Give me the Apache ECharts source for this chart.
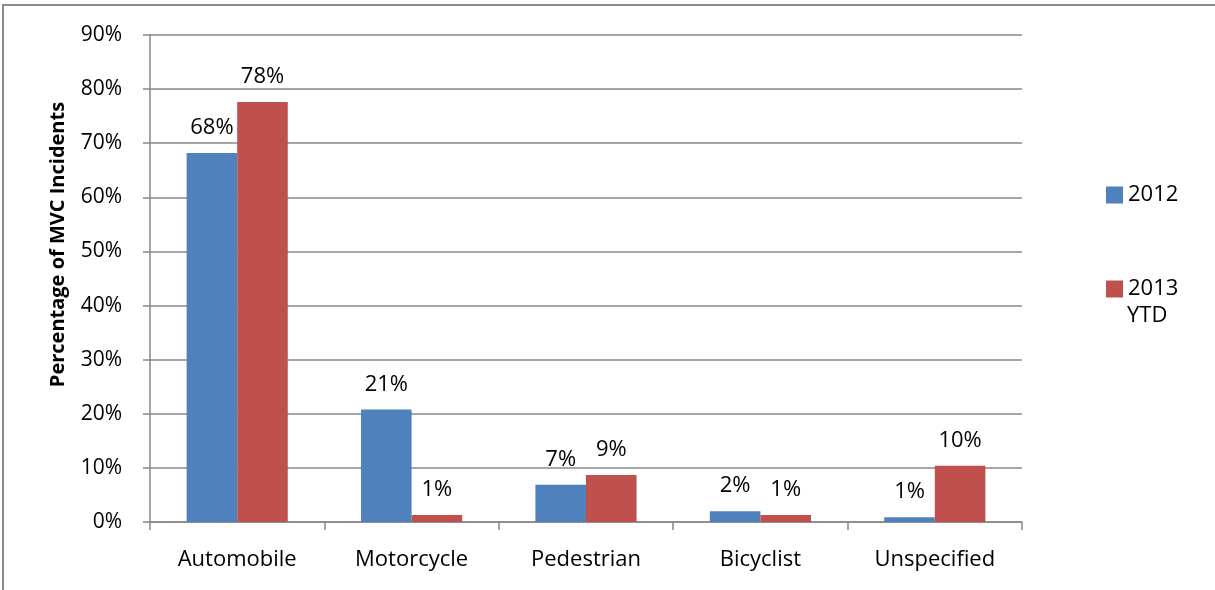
<!DOCTYPE html>
<html>
<head>
<meta charset="utf-8">
<script src="https://cdn.jsdelivr.net/npm/echarts@6/dist/echarts.min.js"></script>
<style>
    html, body { margin: 0; padding: 0; background: #fff; }
    #wrap { position: absolute; left: 2px; top: 4px; width: 1213px; height: 586px; border-top: 2px solid #8c8c8c; border-left: 2px solid #8c8c8c; box-sizing: border-box; }
    #main { position: absolute; left: 0; top: 0; width: 1215px; height: 590px; }
</style>
</head>
<body>
<div id="wrap"></div>
<div id="main"></div>
<script>
// 数据
var categories = ['Automobile', 'Motorcycle', 'Pedestrian', 'Bicyclist', 'Unspecified'];
var values2012 = [68.2, 20.8, 6.9, 2.0, 0.9];
var values2013 = [77.6, 1.3, 8.7, 1.3, 10.4];
var seriesNames = ['2012', '2013 YTD'];

var chart = echarts.init(document.getElementById('main'));
var fontFam = 'Open Sans';

function barLabel() {
    return {
        show: true,
        position: 'top',
        distance: 14,
        color: '#000',
        fontFamily: fontFam,
        fontSize: 22,
        formatter: function (p) { return Math.round(p.value) + '%'; }
    };
}

option = {
    animation: false,
    color: ['#4F81BD', '#C0504D'],
    legend: {
        orient: 'vertical',
        left: 1101,
        top: 179,
        itemWidth: 17,
        itemHeight: 17,
        itemGap: 72,
        icon: 'rect',
        textStyle: {
            color: '#000',
            fontFamily: fontFam,
            fontSize: 22
        },
        // 第二行 YTD 用 graphic 画
        formatter: function (name) { return name.split(' ')[0]; },
        data: seriesNames
    },
    graphic: [
        {
            type: 'text',
            left: 1127,
            top: 305,
            style: {
                text: 'YTD',
                fill: '#000',
                font: '22px "Open Sans"'
            }
        }
    ],
    grid: {
        left: 150,
        right: 193,
        top: 35,
        bottom: 68,
        containLabel: false
    },
    xAxis: {
        type: 'category',
        data: categories,
        axisLine: { show: true, lineStyle: { color: '#888', width: 1.5 } },
        axisTick: { show: true, length: 8, lineStyle: { color: '#888', width: 1.5 } },
        axisLabel: {
            color: '#000',
            fontFamily: fontFam,
            fontSize: 22,
            margin: 27
        }
    },
    yAxis: {
        type: 'value',
        min: 0,
        max: 90,
        interval: 10,
        name: 'Percentage of MVC Incidents',
        nameLocation: 'middle',
        nameGap: 82,
        nameTextStyle: {
            color: '#000',
            fontFamily: fontFam,
            fontSize: 20,
            fontWeight: 'bold',
            padding: [0, 0, 0, 68]
        },
        axisLine: { show: true, lineStyle: { color: '#888', width: 1.5 } },
        axisTick: { show: true, length: 7, lineStyle: { color: '#888', width: 1.5 } },
        axisLabel: {
            color: '#000',
            fontFamily: fontFam,
            fontSize: 21,
            margin: 28,
            formatter: '{value}%'
        },
        splitLine: { show: true, lineStyle: { color: '#888', width: 1.5 } }
    },
    series: [
        {
            name: seriesNames[0],
            type: 'bar',
            barGap: '0%',
            barCategoryGap: '42%',
            label: barLabel(),
            data: values2012
        },
        {
            name: seriesNames[1],
            type: 'bar',
            barGap: '0%',
            barCategoryGap: '42%',
            label: barLabel(),
            data: values2013
        }
    ]
};
chart.setOption(option);
</script>
</body>
</html>
